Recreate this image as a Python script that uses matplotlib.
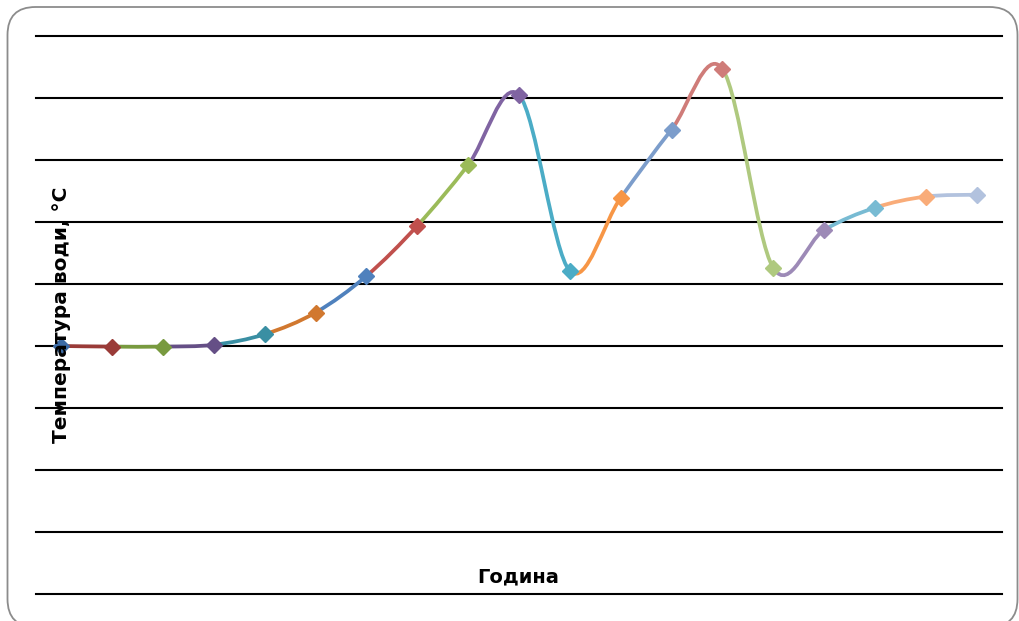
import matplotlib
matplotlib.use("Agg")
import matplotlib.pyplot as plt
import numpy as np
from matplotlib.path import Path
from matplotlib.patches import PathPatch, FancyBboxPatch
from matplotlib.transforms import IdentityTransform

# ---- data ----
hours = list(range(1, 20))
temps = [4.0, 3.99, 3.99, 4.02, 4.19, 4.54, 5.13, 5.94, 6.92, 8.05,
         5.21, 6.39, 7.49, 8.47, 5.26, 5.87, 6.23, 6.41, 6.44]
point_colors = ["#3D6CA6", "#9A3B38", "#789A3F", "#654F86", "#3A8FA3", "#D1782F",
                "#4F81BD", "#C0504D", "#9BBB59", "#8064A2", "#4BACC6", "#F79646",
                "#7C9DCB", "#CF7C79", "#AFC97F", "#9D8AB7", "#78BBD3", "#F9AC79",
                "#B2C2DE"]
y_label = "Температура води, °С"
x_label = "Година"

W, H, DPI = 1020, 621, 100
fig = plt.figure(figsize=(W / DPI, H / DPI), dpi=DPI)
fig.patch.set_facecolor("white")

left, right, top, bottom = 36, 1002, 36, 594
ax = fig.add_axes([left / W, 1 - bottom / H, (right - left) / W, (bottom - top) / H])
ax.set_xlim(0.5, 19.5)
ax.set_ylim(0, 9)
ax.set_yticks(range(0, 10))
ax.set_xticks([])
ax.tick_params(axis="y", length=0, labelleft=False)
for s in ax.spines.values():
    s.set_visible(False)
ax.grid(axis="y", color="black", lw=1.5)
for gl in ax.get_ygridlines():
    gl.set_clip_on(False)
ax.set_axisbelow(True)

# smoothed (Catmull-Rom / Excel-like) segments, each coloured by its end point
P = np.column_stack([hours, temps]).astype(float)
n = len(P)
for i in range(n - 1):
    p0 = P[max(i - 1, 0)]
    p1 = P[i]
    p2 = P[i + 1]
    p3 = P[min(i + 2, n - 1)]
    c1 = p1 + (p2 - p0) / 6.0
    c2 = p2 - (p3 - p1) / 6.0
    path = Path([p1, c1, c2, p2], [Path.MOVETO, Path.CURVE4, Path.CURVE4, Path.CURVE4])
    ax.add_patch(PathPatch(path, facecolor="none", edgecolor=point_colors[i + 1],
                           lw=2.7, capstyle="round", zorder=3, clip_on=False))

for i in range(n):
    ax.plot(hours[i], temps[i], marker="D", ms=8, color=point_colors[i],
            mec=point_colors[i], linestyle="none", zorder=4, clip_on=False)

fig.text(62 / W, 1 - 315 / H, y_label, rotation=90, ha="center", va="center",
         fontsize=14.5, fontweight="bold", family="DejaVu Sans", zorder=10)
fig.text(518 / W, 1 - 577 / H, x_label, ha="center", va="center",
         fontsize=14, fontweight="bold", family="DejaVu Sans")

# rounded chart border
box = FancyBboxPatch((7 + 0.5, -6), 1010, H - 7 + 6,
                     boxstyle="round,pad=0,rounding_size=28",
                     transform=IdentityTransform(), facecolor="none",
                     edgecolor="#8C8C8C", lw=1.3)
fig.patches.append(box)

fig.savefig("out.png", dpi=DPI)
